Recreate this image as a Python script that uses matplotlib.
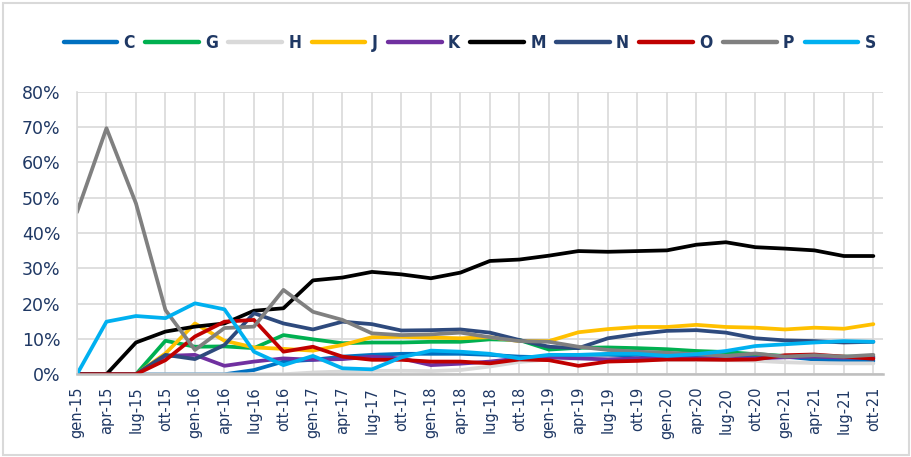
import matplotlib
matplotlib.use("Agg")
import matplotlib.pyplot as plt
from matplotlib.ticker import PercentFormatter
from matplotlib.patches import Rectangle

# quarterly share of each series (%)
quarters = ["gen-15", "apr-15", "lug-15", "ott-15", "gen-16", "apr-16", "lug-16", "ott-16",
            "gen-17", "apr-17", "lug-17", "ott-17", "gen-18", "apr-18", "lug-18", "ott-18",
            "gen-19", "apr-19", "lug-19", "ott-19", "gen-20", "apr-20", "lug-20", "ott-20",
            "gen-21", "apr-21", "lug-21", "ott-21"]

C = [0, 0, 0, 0, 0, 0, 1.2, 3.6, 4.1, 5.0, 5.5, 5.8, 5.8, 5.8, 5.5, 5.0,
     4.8, 5.0, 5.2, 5.5, 5.0, 5.0, 5.4, 5.4, 5.0, 4.2, 3.8, 3.8]
G = [0, 0, 0, 9.5, 7.8, 7.9, 7.4, 11.1, 9.9, 8.8, 9.0, 9.0, 9.2, 9.2, 9.9, 9.7,
     7.0, 7.5, 7.6, 7.4, 7.1, 6.6, 6.3, 5.7, 5.2, 5.0, 5.0, 5.0]
H = [0, 0, 0, 0, 0, 0, 0, 0, 0.5, 0.8, 1.0, 1.0, 0.9, 1.2, 2.2, 3.5,
     4.2, 4.5, 4.5, 4.2, 4.0, 4.0, 4.0, 3.8, 3.4, 3.2, 3.1, 3.1]
J = [0, 0, 0, 5.9, 14.4, 9.5, 7.6, 7.2, 6.7, 8.3, 10.5, 10.6, 10.4, 10.2, 10.5, 9.4,
     9.4, 11.9, 12.8, 13.4, 13.4, 14.0, 13.4, 13.2, 12.7, 13.2, 12.9, 14.2]
K = [0, 0, 0, 5.2, 5.5, 2.4, 3.6, 4.5, 4.1, 4.3, 5.0, 4.5, 2.6, 3.0, 3.6, 4.5,
     4.8, 4.5, 4.2, 4.5, 4.5, 4.5, 4.3, 4.5, 4.8, 5.0, 4.7, 4.7]
M = [0, 0, 9.0, 12.1, 13.5, 14.4, 18.0, 18.7, 26.6, 27.4, 29.0, 28.3, 27.2, 28.8, 32.1, 32.5,
     33.6, 34.9, 34.7, 34.9, 35.1, 36.7, 37.4, 36.0, 35.6, 35.1, 33.5, 33.5]
N = [0, 0, 0, 5.5, 4.3, 8.3, 17.3, 14.4, 12.7, 14.9, 14.2, 12.4, 12.5, 12.7, 11.8, 9.7,
     7.8, 7.4, 10.2, 11.4, 12.3, 12.5, 11.8, 10.2, 9.6, 9.4, 9.0, 9.2]
O = [0, 0, 0, 4.0, 10.7, 14.9, 15.4, 6.4, 7.8, 5.0, 4.1, 4.1, 3.6, 3.6, 3.1, 4.2,
     4.0, 2.4, 3.6, 3.8, 4.2, 4.2, 4.1, 4.2, 5.4, 5.6, 5.0, 4.4]
P = [45.9, 69.7, 48.4, 18.2, 6.9, 13.1, 13.5, 23.9, 17.7, 15.4, 11.6, 11.1, 11.3, 11.8, 10.5, 9.4,
     9.2, 7.8, 6.9, 6.4, 6.1, 5.7, 5.2, 5.9, 5.0, 5.4, 5.0, 5.5]
S = [0, 14.9, 16.5, 15.9, 20.1, 18.4, 6.4, 2.6, 5.2, 1.7, 1.4, 4.8, 6.7, 6.4, 5.8, 4.5,
     5.5, 5.5, 5.8, 5.8, 5.2, 5.7, 6.6, 8.0, 8.5, 9.0, 9.4, 9.2]

series = [("C", C, "#0070C0"), ("G", G, "#00B050"), ("H", H, "#D9D9D9"),
          ("J", J, "#FFC000"), ("K", K, "#7030A0"), ("M", M, "#000000"),
          ("N", N, "#2E4A7D"), ("O", O, "#C00000"), ("P", P, "#808080"),
          ("S", S, "#00B0F0")]

navy = "#1F3864"

fig = plt.figure(figsize=(9.12, 4.57), dpi=100)
ax = fig.add_axes([0.0844, 0.181, 0.8836, 0.618])

x = range(len(quarters))
for name, vals, col in series:
    ax.plot(x, vals, color=col, lw=2.7, label=name, solid_capstyle="round")

ax.set_ylim(0, 80)
ax.set_xlim(0, 27.32)
ax.set_yticks(range(0, 81, 10))
ax.yaxis.set_major_formatter(PercentFormatter(decimals=0))
ax.set_xticks(list(x))
ax.set_xticklabels(quarters, rotation=90)
ax.grid(True, color="#D9D9D9", lw=1.2)
ax.set_axisbelow(True)
for s in ["top", "right"]:
    ax.spines[s].set_visible(False)
ax.spines["left"].set_color("#D9D9D9")
ax.spines["left"].set_linewidth(1.2)
ax.spines["bottom"].set_color("#BFBFBF")
ax.spines["bottom"].set_linewidth(1.8)
ax.tick_params(axis="y", length=0, pad=12, labelsize=12.5, labelcolor=navy)
ax.tick_params(axis="x", length=0, pad=9, labelsize=10.5, labelcolor=navy)

leg = fig.legend(loc="center", bbox_to_anchor=(0.515, 0.906), ncol=10, frameon=False,
                 handlelength=3.1, handletextpad=0.35, columnspacing=0.6,
                 prop={"family": "DejaVu Sans", "stretch": "condensed",
                       "weight": "bold", "size": 12.5})
for t in leg.get_texts():
    t.set_color(navy)
for h in leg.get_lines():
    h.set_linewidth(3.2)

fig.add_artist(Rectangle((0.003, 0.004), 0.994, 0.99, transform=fig.transFigure,
                         fill=False, edgecolor="#D9D9D9", lw=1.5))

fig.savefig("out.png", dpi=100)
